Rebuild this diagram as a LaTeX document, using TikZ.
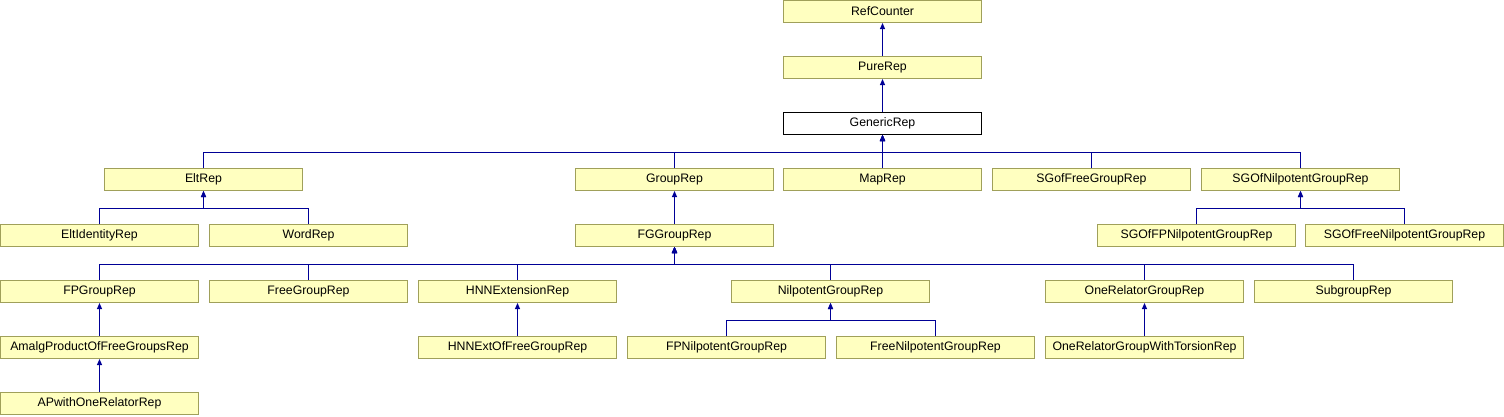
\documentclass[tikz,border=0pt]{standalone}
\usepackage{fontspec}
\setmainfont{Liberation Sans}
\usetikzlibrary{arrows.meta}
\definecolor{boxfill}{RGB}{255,255,192}
\definecolor{boxline}{RGB}{160,160,90}
\definecolor{linkblue}{RGB}{0,0,150}

\begin{document}
\begin{tikzpicture}[x=1pt, y=-1pt,
classnode/.style={rectangle, draw=boxline, fill=boxfill, line width=1pt, minimum width=198pt, minimum height=22pt, inner sep=0pt, font=\fontsize{12.3}{14}\selectfont},
docnode/.style={classnode, draw=black, fill=white},
edge/.style={linkblue, line width=1pt, -{Triangle[length=6pt,width=5pt]}},
]
\useasboundingbox (0,0) rectangle (1504,416);

%Nodes
\node[classnode] (refcounter) at (882.5,11.5)  {RefCounter};
\node[classnode] (purerep)    at (882.5,67.5)  {PureRep};
\node[docnode]   (genericrep) at (882.5,123.5) {GenericRep};

\node[classnode] (eltrep)     at (203.5,179.5)  {EltRep};
\node[classnode] (grouprep)   at (674.5,179.5)  {GroupRep};
\node[classnode] (maprep)     at (882.5,179.5)  {MapRep};
\node[classnode] (sgfree)     at (1091.5,179.5) {SGofFreeGroupRep};
\node[classnode] (sgnil)      at (1300.5,179.5) {SGOfNilpotentGroupRep};

\node[classnode] (eltid)      at (99.5,235.5)   {EltIdentityRep};
\node[classnode] (wordrep)    at (308.5,235.5)  {WordRep};
\node[classnode] (fggroup)    at (674.5,235.5)  {FGGroupRep};
\node[classnode] (sgfpnil)    at (1196.5,235.5) {SGOfFPNilpotentGroupRep};
\node[classnode] (sgfreenil)  at (1404.5,235.5) {SGOfFreeNilpotentGroupRep};

\node[classnode] (fpgroup)    at (99.5,291.5)   {FPGroupRep};
\node[classnode] (freegroup)  at (308.5,291.5)  {FreeGroupRep};
\node[classnode] (hnnext)     at (517.5,291.5)  {HNNExtensionRep};
\node[classnode] (nilgroup)   at (830.5,291.5)  {NilpotentGroupRep};
\node[classnode] (onerel)     at (1144.5,291.5) {OneRelatorGroupRep};
\node[classnode] (subgroup)   at (1353.5,291.5) {SubgroupRep};

\node[classnode] (amalg)      at (99.5,347.5)   {AmalgProductOfFreeGroupsRep};
\node[classnode] (hnnfree)    at (517.5,347.5)  {HNNExtOfFreeGroupRep};
\node[classnode] (fpnil)      at (726.5,347.5)  {FPNilpotentGroupRep};
\node[classnode] (freenil)    at (935.5,347.5)  {FreeNilpotentGroupRep};
\node[classnode] (onereltor)  at (1144.5,347.5) {OneRelatorGroupWithTorsionRep};

\node[classnode] (aprel)      at (99.5,403.5)   {APwithOneRelatorRep};

%Lines
\foreach \child/\parent in {purerep/refcounter, genericrep/purerep,
    eltrep/genericrep, grouprep/genericrep, maprep/genericrep, sgfree/genericrep, sgnil/genericrep,
    eltid/eltrep, wordrep/eltrep, fggroup/grouprep, sgfpnil/sgnil, sgfreenil/sgnil,
    fpgroup/fggroup, freegroup/fggroup, hnnext/fggroup, nilgroup/fggroup, onerel/fggroup, subgroup/fggroup,
    amalg/fpgroup, hnnfree/hnnext, fpnil/nilgroup, freenil/nilgroup, onereltor/onerel,
    aprel/amalg}
  \draw[edge] (\child.north) -- ++(0,-16) -| (\parent.south);
\end{tikzpicture}
\end{document}
